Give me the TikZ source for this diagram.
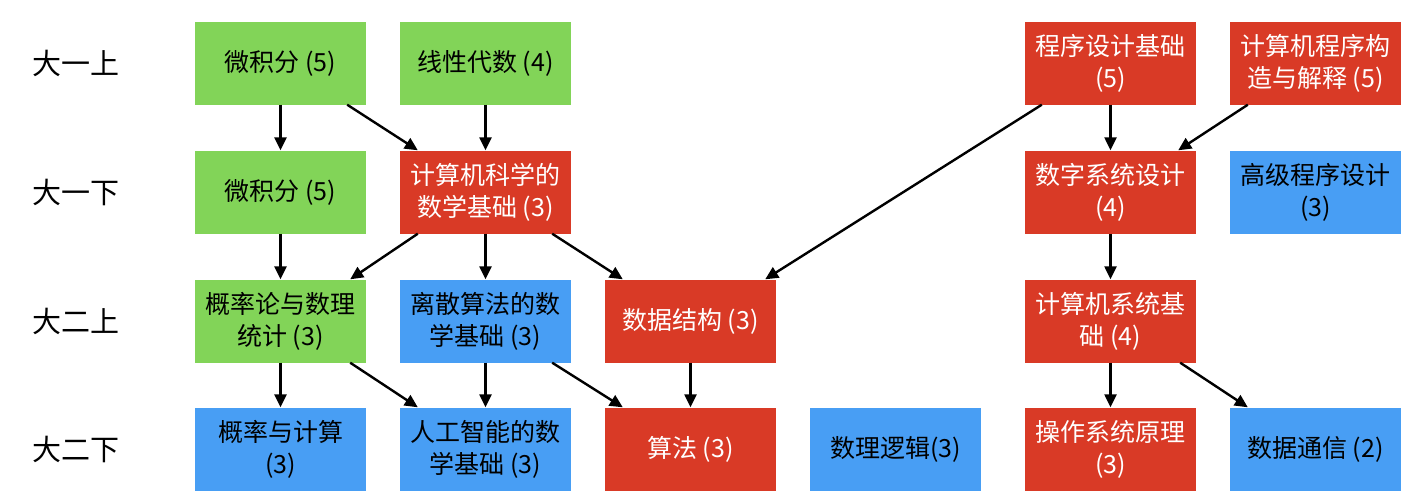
\documentclass[tikz,border=0pt]{standalone}
\usepackage{fontspec}
\newfontfamily\cjk{Noto Sans CJK SC}
\usetikzlibrary{arrows.meta,calc}
\definecolor{cgreen}{RGB}{130,212,88}
\definecolor{cred}{RGB}{217,58,38}
\definecolor{cblue}{RGB}{72,158,244}
\tikzset{
  box/.style={minimum width=171pt, minimum height=83pt, inner sep=0pt, align=center,
    font=\cjk\fontsize{25}{32}\selectfont},
  gbox/.style={box, fill=cgreen, text=black},
  rbox/.style={box, fill=cred, text=white},
  bbox/.style={box, fill=cblue, text=black},
  sem/.style={font=\cjk\fontsize{29}{32}\selectfont, anchor=center},
  arr/.style={draw=black, line width=2.4pt, -{Triangle[length=13pt,width=12pt]}},
}
\begin{document}
\begin{tikzpicture}
\useasboundingbox (0,0) rectangle (1426pt,-498pt);
% semester labels
\node[sem] (s1) at (76pt,-63pt) {大一上};
\node[sem] (s2) at (76pt,-192pt) {大一下};
\node[sem] (s3) at (76pt,-321pt) {大二上};
\node[sem] (s4) at (76pt,-449pt) {大二下};
% row 1
\node[gbox] (calc1) at (280.5pt,-63pt) {微积分 (5)};
\node[gbox] (linalg) at (485.5pt,-63pt) {线性代数 (4)};
\node[rbox] (prog) at (1110.5pt,-63pt) {程序设计基础\\(5)};
\node[rbox] (sicp) at (1315.5pt,-63pt) {计算机程序构\\造与解释 (5)};
% row 2
\node[gbox] (calc2) at (280.5pt,-192pt) {微积分 (5)};
\node[rbox] (csmath) at (485.5pt,-192pt) {计算机科学的\\数学基础 (3)};
\node[rbox] (digital) at (1110.5pt,-192pt) {数字系统设计\\(4)};
\node[bbox] (advprog) at (1315.5pt,-192pt) {高级程序设计\\(3)};
% row 3
\node[gbox] (prob) at (280.5pt,-321pt) {概率论与数理\\统计 (3)};
\node[bbox] (discrete) at (485.5pt,-321pt) {离散算法的数\\学基础 (3)};
\node[rbox] (ds) at (690.5pt,-321pt) {数据结构 (3)};
\node[rbox] (sys) at (1110.5pt,-321pt) {计算机系统基\\础 (4)};
% row 4
\node[bbox] (probcomp) at (280.5pt,-449pt) {概率与计算\\(3)};
\node[bbox] (aimath) at (485.5pt,-449pt) {人工智能的数\\学基础 (3)};
\node[rbox] (algo) at (690.5pt,-449pt) {算法 (3)};
\node[bbox] (logic) at (895.5pt,-449pt) {数理逻辑(3)};
\node[rbox] (os) at (1110.5pt,-449pt) {操作系统原理\\(3)};
\node[bbox] (comm) at (1315.5pt,-449pt) {数据通信 (2)};
% vertical arrows
\draw[arr] (calc1.south) -- (calc2.north);
\draw[arr] (linalg.south) -- (csmath.north);
\draw[arr] (calc2.south) -- (prob.north);
\draw[arr] (csmath.south) -- (discrete.north);
\draw[arr] (prog.south) -- (digital.north);
\draw[arr] (digital.south) -- (sys.north);
\draw[arr] (prob.south) -- (probcomp.north);
\draw[arr] (discrete.south) -- (aimath.north);
\draw[arr] (ds.south) -- (algo.north);
\draw[arr] (sys.south) -- (os.north);
% diagonal arrows
\draw[arr] ($(calc1.south east)+(-19pt,0)$) -- ($(csmath.north west)+(18pt,0)$);
\draw[arr] ($(csmath.south west)+(18pt,0)$) -- ($(prob.north east)+(-16pt,0)$);
\draw[arr] ($(csmath.south east)+(-19pt,0)$) -- ($(ds.north west)+(18pt,0)$);
\draw[arr] ($(prog.south west)+(17pt,0)$) -- ($(ds.north east)+(-11pt,0)$);
\draw[arr] ($(sicp.south west)+(18pt,0)$) -- ($(digital.north east)+(-18pt,0)$);
\draw[arr] ($(prob.south east)+(-16pt,0)$) -- ($(aimath.north west)+(18pt,0)$);
\draw[arr] ($(discrete.south east)+(-19pt,0)$) -- ($(algo.north west)+(18pt,0)$);
\draw[arr] ($(sys.south east)+(-16pt,0)$) -- ($(comm.north west)+(18pt,0)$);
\end{tikzpicture}
\end{document}
